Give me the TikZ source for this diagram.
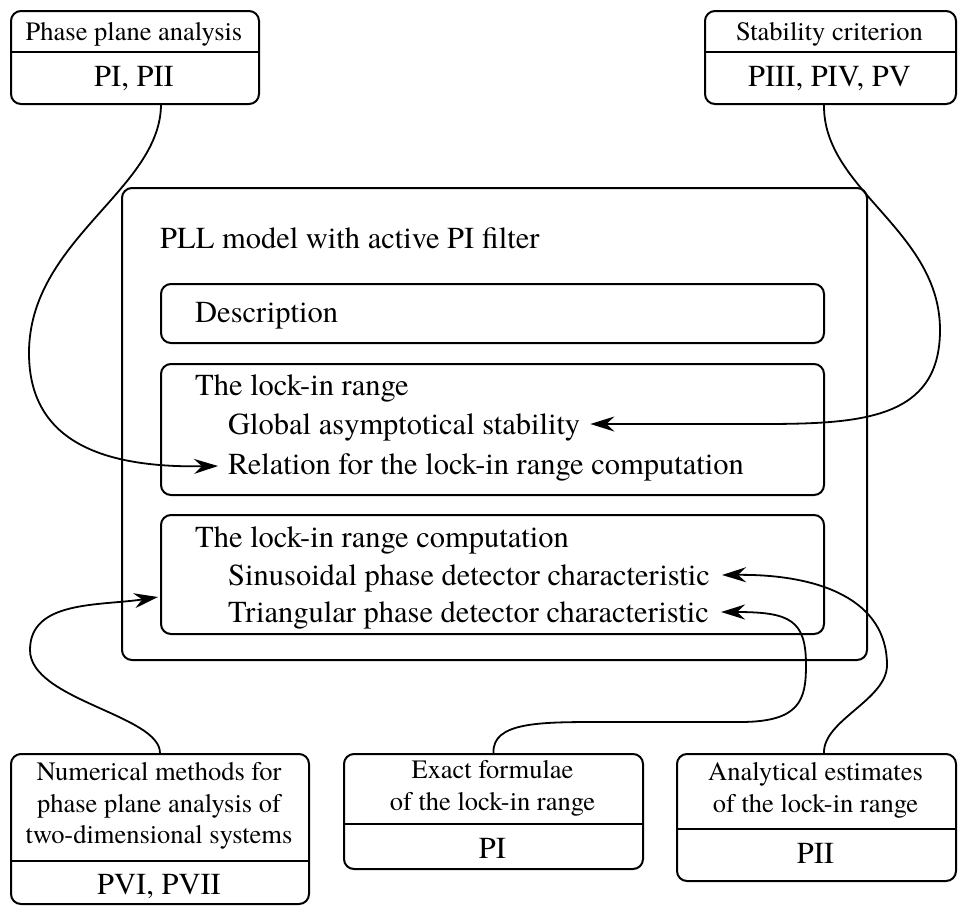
\documentclass[tikz,border=0pt]{standalone}
\usepackage{fontspec}
\setmainfont{texgyretermes}[Extension=.otf, UprightFont=*-regular, BoldFont=*-bold, ItalicFont=*-italic, BoldItalicFont=*-bolditalic]
\usetikzlibrary{arrows.meta}
\newcommand\fsmain{\fontsize{30.5}{36}\selectfont}
\newcommand\fshead{\fontsize{26.5}{32}\selectfont}
\begin{document}
\begin{tikzpicture}[x=1pt,y=-1pt,
  frame/.style={draw, line width=2pt, rounded corners=10pt, anchor=north west, inner sep=0pt},
  rule/.style={line width=2pt},
  head/.style={font=\fshead, inner sep=0pt, anchor=base},
  body/.style={font=\fsmain, inner sep=0pt, anchor=base},
  item/.style={font=\fsmain, inner sep=0pt, anchor=base west},
  conn/.style={line width=1.8pt, -{Stealth[length=24pt, width=15pt, inset=8pt]}}]
\useasboundingbox (0,0) rectangle (964,906);

% --- source boxes at the top
\node[frame, minimum width=248pt, minimum height=93pt] (pp) at (10,10) {};
\coordinate (ppdiv) at (134,52);
\draw[rule] (pp.west |- ppdiv) -- (pp.east |- ppdiv);
\node[head] (pphead) at (134,40) {Phase plane analysis};
\node[body] (ppref) at (134,86) {PI, PII};

\node[frame, minimum width=251pt, minimum height=93pt] (sc) at (704,10) {};
\coordinate (scdiv) at (829,52);
\draw[rule] (sc.west |- scdiv) -- (sc.east |- scdiv);
\node[head] (schead) at (829.5,40) {Stability criterion};
\node[body] (scref) at (829.5,86) {PIII, PIV, PV};

% --- the model frame with its three sections
\node[frame, minimum width=745pt, minimum height=472pt] (pll) at (121,187) {};
\node[item] (plltitle) at (160,248) {PLL model with active PI filter};

\node[frame, minimum width=663pt, minimum height=59pt] (desc) at (160,283) {};
\node[item] (desctext) at (195,322) {Description};

\node[frame, minimum width=663pt, minimum height=131pt] (lock) at (160,363) {};
\node[item] (locktitle) at (195,395) {The lock-in range};
\node[item] (glob) at (228,434) {Global asymptotical stability};
\node[item] (rel) at (228,474) {Relation for the lock-in range computation};

\node[frame, minimum width=663pt, minimum height=119pt] (comp) at (160,514) {};
\node[item] (comptitle) at (195,547) {The lock-in range computation};
\node[item] (sin) at (228,585) {Sinusoidal phase detector characteristic};
\node[item] (tri) at (228,622) {Triangular phase detector characteristic};

% --- source boxes at the bottom
\node[frame, minimum width=298pt, minimum height=150pt] (num) at (10,753) {};
\coordinate (numdiv) at (159,861);
\draw[rule] (num.west |- numdiv) -- (num.east |- numdiv);
\node[head] (numl1) at (159,780) {Numerical methods for};
\node[head] (numl2) at (159,812) {phase plane analysis of};
\node[head] (numl3) at (159,843) {two-dimensional systems};
\node[body] (numref) at (159,894) {PVI, PVII};

\node[frame, minimum width=299pt, minimum height=115pt] (ex) at (343,753) {};
\coordinate (exdiv) at (492,824);
\draw[rule] (ex.west |- exdiv) -- (ex.east |- exdiv);
\node[head] (exl1) at (492.5,778) {Exact formulae};
\node[head] (exl2) at (492.5,810) {of the lock-in range};
\node[body] (exref) at (492.5,858) {PI};

\node[frame, minimum width=279pt, minimum height=127pt] (an) at (676,753) {};
\coordinate (andiv) at (815,829);
\draw[rule] (an.west |- andiv) -- (an.east |- andiv);
\node[head] (anl1) at (815.5,780) {Analytical estimates};
\node[head] (anl2) at (815.5,812) {of the lock-in range};
\node[body] (anref) at (815.5,863) {PII};

% --- connectors
\coordinate (numtip) at (158,597);

\draw[conn] ([xshift=26pt]pp.south) .. controls (160,190) and (29,240) .. (29,353)
  .. controls (29,440) and (100,468) .. ([xshift=-10pt,yshift=8pt]rel.base west);

\draw[conn] ([xshift=-6.5pt]sc.south) .. controls (823,190) and (940,230) .. (940,330)
  .. controls (940,420) and (860,424) .. (760,424) -- ([xshift=10pt,yshift=10pt]glob.base east);

\draw[conn] (num.north) .. controls (160,715) and (30,700) .. (30,650)
  .. controls (30,600) and (100,606) .. (numtip);

\draw[conn] (ex.north) .. controls (492,722) and (540,722) .. (600,722) -- (740,722)
  .. controls (800,722) and (806,700) .. (806,665)
  .. controls (806,620) and (790,612) .. ([xshift=12pt,yshift=10pt]tri.base east);

\draw[conn] ([xshift=7.5pt]an.north) .. controls (823,720) and (887,700) .. (887,665)
  .. controls (887,600) and (820,574) .. ([xshift=12pt,yshift=10pt]sin.base east);
\end{tikzpicture}
\end{document}
